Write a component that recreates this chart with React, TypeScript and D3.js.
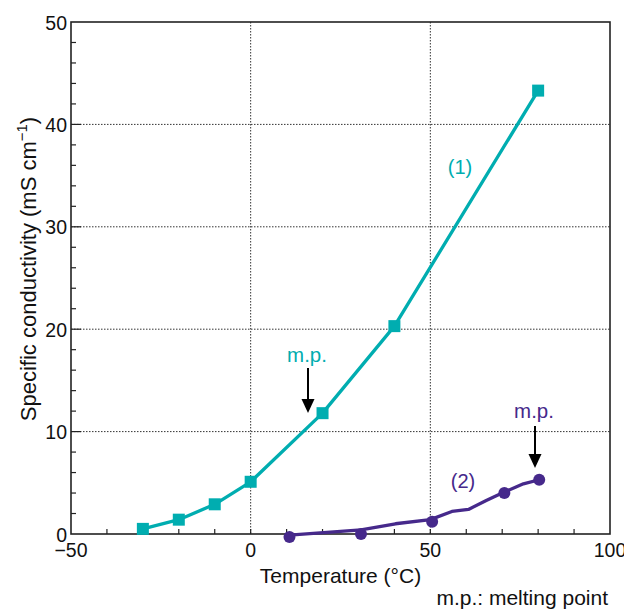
import React from "react";
import * as d3 from "d3";

const xTicks = [-50, 0, 50, 100];
const xTickLabels = ["\u221250", "0", "50", "100"];
const yTicks = [0, 10, 20, 30, 40, 50];
const xGrid = [0, 50];
const yGrid = [10, 20, 30, 40];

const s1X = [-30, -20, -10, 0, 20, 40, 80];
const s1Y = [0.5, 1.4, 2.9, 5.1, 11.8, 20.3, 43.3];

const s2MarkX = [10.8, 30.7, 50.5, 70.6, 80.3];
const s2MarkY = [-0.3, 0.0, 1.2, 4.0, 5.3];
const s2LineX = [10.8, 30.7, 40.3, 50, 56, 60.6, 65.7, 70.6, 75.9, 80.3];
const s2LineY = [-0.1, 0.4, 1.0, 1.4, 2.2, 2.4, 3.3, 4.1, 4.9, 5.3];

const TEAL = "#00ADB0";
const PURPLE = "#46298B";
const FONT = "'Liberation Sans', Arial, Helvetica, sans-serif";

export default function App() {
  const W = 624, H = 610;
  const L = 71, R = 610, T = 22, B = 534;
  const x = d3.scaleLinear().domain([-50, 100]).range([L, R]);
  const y = d3.scaleLinear().domain([0, 50]).range([B, T]);

  const line1 = d3.line<number>().x((_, i) => x(s1X[i])).y((d) => y(d)).curve(d3.curveLinear)(s1Y) || "";
  const line2 = d3.line<number>().x((_, i) => x(s2LineX[i])).y((d) => y(d)).curve(d3.curveLinear)(s2LineY) || "";

  const xMinor = d3.range(-40, 100, 10);
  const yMinor = d3.range(2, 50, 2);

  const arrow = (ax: number, y0: number, y1: number) => (
    <g>
      <line x1={ax} x2={ax} y1={y0} y2={y1 - 12} stroke="#000" strokeWidth={2} />
      <path d={`M${ax - 6.5},${y1 - 14} L${ax + 6.5},${y1 - 14} L${ax},${y1} Z`} fill="#000" />
    </g>
  );

  return (
    <svg width={W} height={H} style={{ position: "absolute", left: 0, top: 0 }} fontFamily={FONT}>
      <rect width={W} height={H} fill="#fff" />
      {xGrid.map((v) => (
        <line key={"gx" + v} x1={x(v)} x2={x(v)} y1={T} y2={B} stroke="#333" strokeWidth={1} strokeDasharray="1.5,1.5" />
      ))}
      {yGrid.map((v) => (
        <line key={"gy" + v} x1={L} x2={R} y1={y(v)} y2={y(v)} stroke="#333" strokeWidth={1} strokeDasharray="1.5,1.5" />
      ))}
      {xMinor.map((v) => (
        <line key={"xm" + v} x1={x(v)} x2={x(v)} y1={B} y2={B - 5} stroke="#222" strokeWidth={1.2} />
      ))}
      {yMinor.map((v) => (
        <line key={"ym" + v} x1={L} x2={L + (v % 10 === 0 ? 10 : 5)} y1={y(v)} y2={y(v)} stroke="#222" strokeWidth={1.2} />
      ))}
      <rect x={L} y={T} width={R - L} height={B - T} fill="none" stroke="#222" strokeWidth={1.6} />
      {xTicks.map((v, i) => (
        <text key={"xt" + v} x={x(v)} y={557} fontSize={19.5} textAnchor="middle" fill="#111">{xTickLabels[i]}</text>
      ))}
      {yTicks.map((v) => (
        <text key={"yt" + v} x={67} y={y(v) + 7.5} fontSize={19.5} textAnchor="end" fill="#111">{v}</text>
      ))}
      <text x={(L + R) / 2} y={583} fontSize={21} textAnchor="middle" fill="#111">Temperature (°C)</text>
      <text transform={`translate(35.5,${269}) rotate(-90)`} fontSize={22} textAnchor="middle" fill="#111">
        Specific conductivity (mS cm<tspan dy={-8.5} fontSize={15}>−1</tspan><tspan dy={8.5}>)</tspan>
      </text>
      <text x={608} y={605} fontSize={21} textAnchor="end" fill="#111">m.p.: melting point</text>
      <path d={line1} fill="none" stroke={TEAL} strokeWidth={3.3} strokeLinejoin="round" />
      {s1Y.map((v, i) => (
        <rect key={"s1" + i} x={x(s1X[i]) - 6} y={y(v) - 6} width={12} height={12} fill={TEAL} />
      ))}
      <path d={line2} fill="none" stroke={PURPLE} strokeWidth={3.3} strokeLinejoin="round" />
      {s2MarkY.map((v, i) => (
        <circle key={"s2" + i} cx={x(s2MarkX[i])} cy={y(v)} r={6} fill={PURPLE} />
      ))}
      <text x={460} y={174} fontSize={20} textAnchor="middle" fill={TEAL}>(1)</text>
      <text x={307} y={362} fontSize={20.5} textAnchor="middle" fill={TEAL}>m.p.</text>
      {arrow(308, 368, 413)}
      <text x={534} y={418} fontSize={20.5} textAnchor="middle" fill={PURPLE}>m.p.</text>
      {arrow(535, 426, 468)}
      <text x={463} y={488} fontSize={20} textAnchor="middle" fill={PURPLE}>(2)</text>
    </svg>
  );
}
